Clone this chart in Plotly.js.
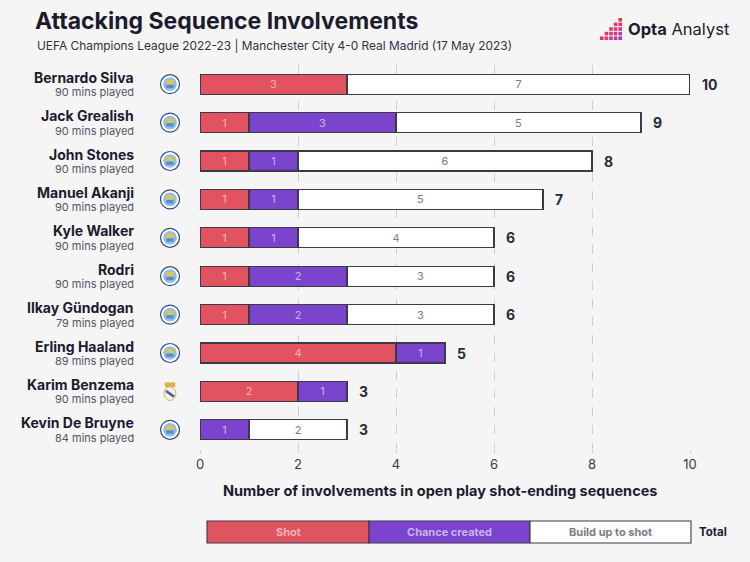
<!DOCTYPE html>
<html>
<head>
<meta charset="utf-8">
<script src="https://cdn.plot.ly/plotly-3.0.1.min.js"></script>
<style>
html,body{margin:0;padding:0;background:#f5f5f6;}
#chart{width:750px;height:562px;}
</style>
</head>
<body>
<div id="chart"></div>
<script>
// ---- data ----
const players = ["Bernardo Silva","Jack Grealish","John Stones","Manuel Akanji","Kyle Walker","Rodri","Ilkay Gündogan","Erling Haaland","Karim Benzema","Kevin De Bruyne"];
const minsPlayed = [90,90,90,90,90,90,79,89,90,84];
const teams = ["MCI","MCI","MCI","MCI","MCI","MCI","MCI","MCI","RMA","MCI"];
const shot = [3,1,1,1,1,1,1,4,2,0];
const chanceCreated = [0,3,1,1,1,2,2,1,1,1];
const buildUp = [7,5,6,5,4,3,3,0,0,2];
const seriesNames = ["Shot","Chance created","Build up to shot"];
const xTicks = [0,2,4,6,8,10];

// ---- layout helpers ----
const W = 750, H = 562, ML = 200, MR = 60, MT = 65, MB = 113;
const PW = W - ML - MR, PH = H - MT - MB;
const px = v => (v - ML) / PW;          // pixel x -> paper x
const py = v => (H - MB - v) / PH;      // pixel y -> paper y

const FONT = "Inter, 'Noto Sans', sans-serif";
const DARK = "#1d1b2e";
const idx = players.map((_, i) => i);
const nz = a => a.map(v => v === 0 ? null : v);
const txt = a => a.map(v => v === 0 ? "" : String(v));
const totals = players.map((_, i) => shot[i] + chanceCreated[i] + buildUp[i]);

const colors = ["#e0535f", "#7a44cc", "#ffffff"];
const textColors = ["#f6b3b9", "#c9b2f3", "#7c7c84"];
const vals = [shot, chanceCreated, buildUp];

const traces = vals.map((v, k) => ({
  type: "bar", orientation: "h",
  name: seriesNames[k],
  y: idx, x: nz(v),
  text: txt(v), textposition: "inside", insidetextanchor: "middle",
  textangle: 0, constraintext: "none",
  textfont: {family: FONT, size: 11, color: textColors[k]},
  marker: {color: colors[k], line: {color: "#3c394b", width: 1.1}},
  hoverinfo: "skip", showlegend: false
}));

const annotations = [];
const shapes = [];

// subtitle
annotations.push({xref: "paper", yref: "paper", x: px(35), y: py(45), xanchor: "left", yanchor: "middle",
  text: "UEFA Champions League 2022-23 | Manchester City 4-0 Real Madrid (17 May 2023)",
  showarrow: false, font: {family: FONT, size: 11.9, color: "#33323f"}});

// logo text
annotations.push({xref: "paper", yref: "paper", x: px(626), y: py(29), xanchor: "left", yanchor: "middle",
  text: "<b>Opta</b> Analyst", showarrow: false, font: {family: FONT, size: 16.5, color: "#1d1b2e"}});
// logo icon: staircase of little squares
const iconColors = ["#9a3fb8","#b33fa6","#c93d8e","#dc3a74","#e8375e"];
for (let c = 0; c < 5; c++) {
  for (let r = 0; r < c + 1; r++) {
    const x0 = 600 + c * 4.6, y1 = 40 - r * 4.6;
    shapes.push({type: "rect", xref: "paper", yref: "paper",
      x0: px(x0), x1: px(x0 + 3.6), y0: py(y1), y1: py(y1 - 3.6),
      fillcolor: iconColors[Math.min(4, Math.max(0, 4 - (c - r)))], line: {width: 0}, layer: "above"});
  }
}

// player names, minutes, crests, totals
players.forEach((p, i) => {
  annotations.push({xref: "paper", yref: "y", x: px(136), y: i, yshift: 7, xanchor: "right", yanchor: "middle",
    text: "<b>" + p + "</b>", showarrow: false, font: {family: FONT, size: 14, color: DARK}});
  annotations.push({xref: "paper", yref: "y", x: px(136), y: i, yshift: -8, xanchor: "right", yanchor: "middle",
    text: minsPlayed[i] + " mins played", showarrow: false, font: {family: FONT, size: 11, color: "#55545f"}});
  annotations.push({xref: "x", yref: "y", x: totals[i], y: i, xshift: 10, xanchor: "left", yanchor: "middle",
    text: "<b>" + totals[i] + "</b>", showarrow: false, font: {family: FONT, size: 14, color: "#2b2a38"}});

  const cx = px(170), rx = 9.5 / PW, ry = 9.5 / (PH / players.length);
  if (teams[i] === "MCI") {
    shapes.push({type: "circle", xref: "paper", yref: "y", x0: cx - rx, x1: cx + rx, y0: i - ry, y1: i + ry,
      fillcolor: "#ffffff", line: {color: "#2f4a7e", width: 1.2}});
    shapes.push({type: "circle", xref: "paper", yref: "y", x0: cx - rx * 0.72, x1: cx + rx * 0.72, y0: i - ry * 0.72, y1: i + ry * 0.72,
      fillcolor: "#8cc0e8", line: {width: 0}});
    shapes.push({type: "rect", xref: "paper", yref: "y", x0: cx - rx * 0.38, x1: cx + rx * 0.38, y0: i - ry * 0.42, y1: i + ry * 0.05,
      fillcolor: "#e8c25a", line: {width: 0}});
    shapes.push({type: "rect", xref: "paper", yref: "y", x0: cx - rx * 0.38, x1: cx + rx * 0.38, y0: i + ry * 0.05, y1: i + ry * 0.42,
      fillcolor: "#5a8ccc", line: {width: 0}});
  } else {
    // crown
    shapes.push({type: "rect", xref: "paper", yref: "y", x0: cx - rx * 0.55, x1: cx + rx * 0.55, y0: i - ry * 0.95, y1: i - ry * 0.45,
      fillcolor: "#d9b24c", line: {width: 0}});
    // body
    shapes.push({type: "circle", xref: "paper", yref: "y", x0: cx - rx * 0.62, x1: cx + rx * 0.62, y0: i - ry * 0.5, y1: i + ry * 0.95,
      fillcolor: "#f4f0e4", line: {color: "#d9b24c", width: 1}});
    shapes.push({type: "line", xref: "paper", yref: "y", x0: cx - rx * 0.42, x1: cx + rx * 0.42, y0: i - ry * 0.05, y1: i + ry * 0.55,
      line: {color: "#3f5f9e", width: 2.5}});
  }
});

// x-axis title
annotations.push({xref: "paper", yref: "paper", x: px(440), y: py(490), xanchor: "center", yanchor: "middle",
  text: "<b>Number of involvements in open play shot-ending sequences</b>", showarrow: false,
  font: {family: FONT, size: 14.5, color: DARK}});

// legend bar
const segX = [207, 369, 530, 691];
seriesNames.forEach((n, k) => {
  shapes.push({type: "rect", xref: "paper", yref: "paper", x0: px(segX[k]), x1: px(segX[k + 1]), y0: py(543), y1: py(521),
    fillcolor: colors[k], line: {color: "#3c394b", width: 1.1}});
  annotations.push({xref: "paper", yref: "paper", x: px((segX[k] + segX[k + 1]) / 2), y: py(532), xanchor: "center", yanchor: "middle",
    text: "<b>" + n + "</b>", showarrow: false, font: {family: FONT, size: 11, color: textColors[k]}});
});
annotations.push({xref: "paper", yref: "paper", x: px(697), y: py(532), xanchor: "left", yanchor: "middle",
  text: "<b>Total</b>", showarrow: false, font: {family: FONT, size: 11.5, color: DARK}});

const layout = {
  width: W, height: H,
  margin: {l: ML, r: MR, t: MT, b: MB, pad: 0},
  paper_bgcolor: "#f5f5f6", plot_bgcolor: "#f5f5f6",
  barmode: "stack", bargap: 0.48,
  title: {text: "<b>Attacking Sequence Involvements</b>", x: 35 / W, xanchor: "left", xref: "container",
    y: 1 - 21 / H, yanchor: "middle", yref: "container",
    font: {family: FONT, size: 23, color: DARK}},
  xaxis: {range: [0, 10], tickvals: xTicks, ticktext: xTicks.map(String),
    showgrid: true, gridcolor: "#cdcdd3", griddash: "dash", gridwidth: 1,
    zeroline: false, showline: false, ticks: "outside", ticklen: 3, tickcolor: "#cdcdd3",
    tickfont: {family: FONT, size: 13, color: "#3a3946"}, fixedrange: true},
  yaxis: {range: [players.length - 0.5, -0.5], showticklabels: false, showgrid: false, zeroline: false,
    ticks: "", fixedrange: true},
  annotations: annotations, shapes: shapes,
  showlegend: false
};

Plotly.newPlot("chart", traces, layout, {displayModeBar: false, staticPlot: true});
</script>
</body>
</html>
